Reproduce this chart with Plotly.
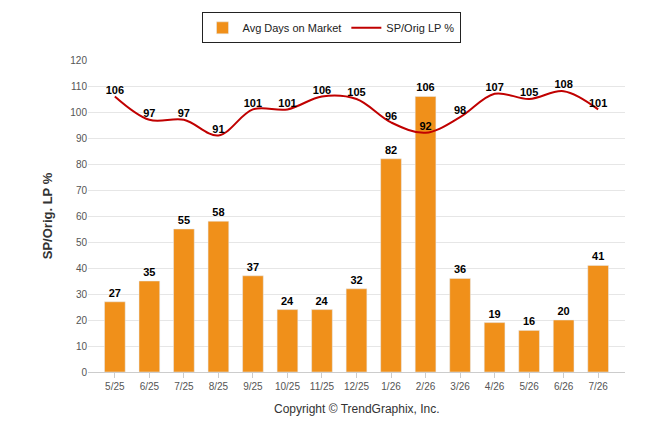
import plotly.graph_objects as go

months = ["5/25","6/25","7/25","8/25","9/25","10/25","11/25","12/25","1/26","2/26","3/26","4/26","5/26","6/26","7/26"]
days = [27,35,55,58,37,24,24,32,82,106,36,19,16,20,41]
splp = [106,97,97,91,101,101,106,105,96,92,98,107,105,108,101]

fig = go.Figure()
fig.add_trace(go.Bar(x=months, y=days, name="Avg Days on Market", marker_color="#F0901A",
                     text=[f"<b>{v}</b>" for v in days], textposition="outside", width=0.6,
                     textfont=dict(size=11, color="black"),
                     cliponaxis=False))
fig.add_trace(go.Scatter(x=months, y=splp, name="SP/Orig LP %", mode="lines+text",
                         line=dict(color="#C00000", width=2, shape="spline", smoothing=1),
                         text=[f"<b>{v}</b>" for v in splp], textposition="top center",
                         textfont=dict(size=11, color="black"),
                         cliponaxis=False))
fig.update_layout(
    width=646, height=434, paper_bgcolor="white", plot_bgcolor="white",
    margin=dict(l=80, r=29, t=52, b=70, autoexpand=False),
    font=dict(family="Liberation Sans, Arial", size=11, color="#333"),
    bargap=0.4,
    legend=dict(orientation="h", x=0.5, xanchor="center", xref="container",
                y=0.99, yanchor="top", yref="container",
                bordercolor="#222", borderwidth=1, font=dict(size=11, color="#222")),
    yaxis=dict(range=[0,120], dtick=10, gridcolor="#e6e6e6", zeroline=False, automargin=False,
               title=dict(text="<b>SP/Orig. LP %</b>", font=dict(size=13, color="#333"), standoff=14),
               tickfont=dict(size=10, color="#555"), showline=False),
    xaxis=dict(tickfont=dict(size=10, color="#555"), linecolor="#ccc", showline=True, automargin=False,
               ticks="outside", tickcolor="#ccc", ticklen=5),
    annotations=[dict(text="Copyright © TrendGraphix, Inc.", xref="paper", yref="paper",
                      x=0.5, y=-0.09, xanchor="center", yanchor="top", showarrow=False,
                      font=dict(size=12, color="#333"))],
)
fig.write_html("out.html")
